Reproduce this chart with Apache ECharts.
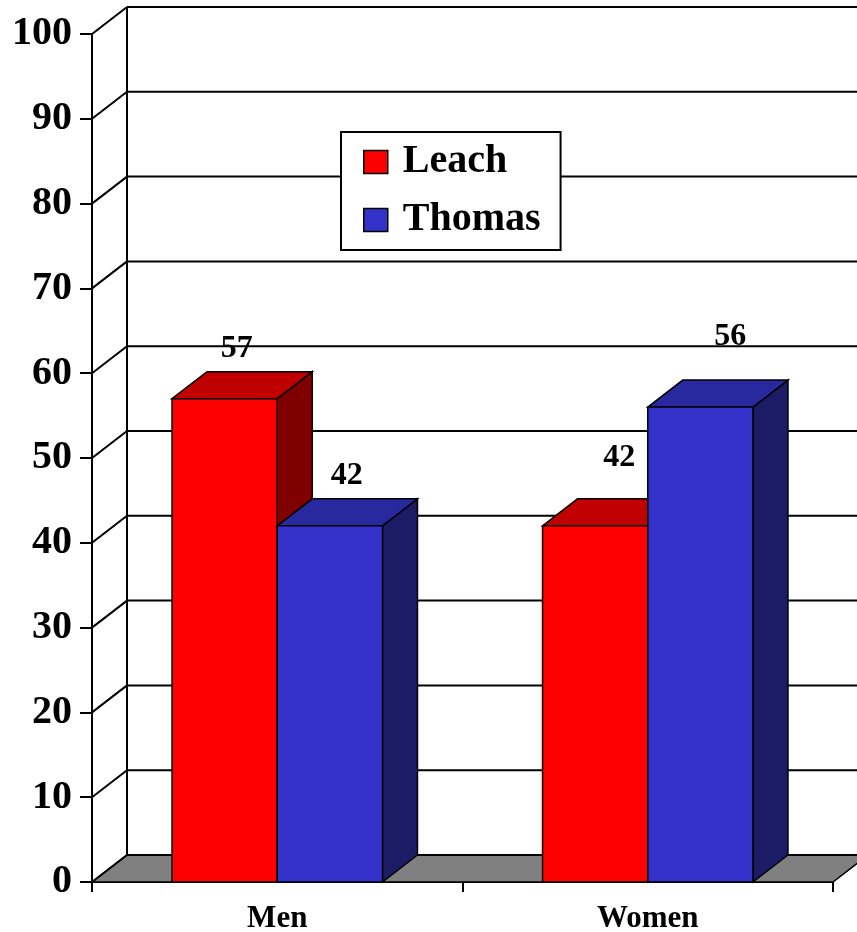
<!DOCTYPE html>
<html>
<head>
<meta charset="utf-8">
<script src="https://cdn.jsdelivr.net/npm/echarts@6/dist/echarts.min.js"></script>
<style>html,body{margin:0;padding:0;background:#fff}#c{width:857px;height:932px}</style>
</head>
<body>
<div id="c"></div>
<script>
// ---- data ----
const categories = ['Men', 'Women'];
const leach = [57, 42];
const thomas = [42, 56];
const yTicks = [0, 10, 20, 30, 40, 50, 60, 70, 80, 90, 100];

// ---- style ----
const DX = 35, DY = -27;
const FONT = 'Liberation Serif, Times New Roman, serif';
const BAR_FRAC = 0.284;
const faces = [
  { front: '#FF0000', top: '#C00000', side: '#800000' },
  { front: '#3333CC', top: '#28289F', side: '#1C1C66' }
];
const labelOffsets = [
  [[12, -50], [24, -68]],
  [[17, -50], [30, -70]]
];

const chart = echarts.init(document.getElementById('c'));

function frameItem(params, api) {
  const v = api.value(0);
  const cs = params.coordSys;
  const y = api.coord([0, v])[1];
  const left = cs.x, right = cs.x + cs.width;
  const ls = { stroke: '#000', lineWidth: 2 };
  const children = [];
  if (params.dataIndex === 0) {
    children.push({
      type: 'polygon',
      shape: { points: [[left, y], [left + DX, y + DY], [right + DX, y + DY], [right, y]] },
      style: { fill: '#808080', stroke: '#000', lineWidth: 1.5 }
    });
    children.push({
      type: 'line',
      shape: { x1: left + DX, y1: y + DY, x2: left + DX, y2: cs.y + DY },
      style: ls
    });
  }
  children.push({
    type: 'line',
    shape: { x1: left + DX, y1: y + DY, x2: right + DX, y2: y + DY },
    style: ls
  });
  children.push({
    type: 'line',
    shape: { x1: left, y1: y, x2: left + DX, y2: y + DY },
    style: ls
  });
  return { type: 'group', children };
}

function barRenderer(s) {
  return function (params, api) {
    const i = api.value(0), v = api.value(1);
    const base = api.coord([i, 0]);
    const top = api.coord([i, v])[1];
    const bandW = api.size([1, 0])[0];
    const w = bandW * BAR_FRAC;
    const x0 = base[0] - w + s * w;
    const b = base[1];
    const f = faces[s];
    const bs = { stroke: '#000', lineWidth: 1.5 };
    const off = labelOffsets[s][i];
    return {
      type: 'group',
      children: [
        { type: 'polygon', shape: { points: [[x0 + w, top], [x0 + w + DX, top + DY], [x0 + w + DX, b + DY], [x0 + w, b]] },
          style: Object.assign({ fill: f.side }, bs) },
        { type: 'polygon', shape: { points: [[x0, top], [x0 + DX, top + DY], [x0 + w + DX, top + DY], [x0 + w, top]] },
          style: Object.assign({ fill: f.top }, bs) },
        { type: 'rect', shape: { x: x0, y: top, width: w, height: b - top },
          style: Object.assign({ fill: f.front }, bs) },
        { type: 'text', x: x0 + w / 2 + off[0], y: top + off[1],
          style: { text: String(v), font: 'bold 32px ' + FONT, fill: '#000', align: 'center', verticalAlign: 'middle' } }
      ]
    };
  };
}

chart.setOption({
  animation: false,
  backgroundColor: '#fff',
  grid: { left: 92, right: 24, top: 34, bottom: 50, containLabel: false, outerBoundsMode: 'none' },
  legend: {
    data: ['Leach', 'Thomas'],
    orient: 'vertical',
    left: 341, top: 132,
    padding: [10, 20, 10, 22],
    itemGap: 18,
    itemWidth: 24, itemHeight: 23,
    icon: 'rect',
    backgroundColor: '#fff',
    borderColor: '#000', borderWidth: 2,
    z: 20,
    itemStyle: { borderColor: '#000', borderWidth: 1.5 },
    textStyle: { fontFamily: FONT, fontWeight: 'bold', fontSize: 40, color: '#000', padding: [0, 0, 0, 10], lineHeight: 40 }
  },
  xAxis: {
    type: 'category',
    data: categories,
    boundaryGap: true,
    axisLine: { lineStyle: { color: '#000', width: 2 } },
    axisTick: { show: true, length: 10, lineStyle: { color: '#000', width: 2 } },
    axisLabel: { fontFamily: FONT, fontWeight: 'bold', fontSize: 31, color: '#000', margin: 21 },
    splitLine: { show: false }
  },
  yAxis: {
    type: 'value',
    min: 0, max: 100, interval: 10,
    axisLine: { show: true, lineStyle: { color: '#000', width: 2 } },
    axisTick: { show: true, length: 12, lineStyle: { color: '#000', width: 2 } },
    axisLabel: { fontFamily: FONT, fontWeight: 'bold', fontSize: 40, color: '#000', margin: 20, padding: [10, 0, 0, 0] },
    splitLine: { show: false }
  },
  series: [
    {
      type: 'custom', z: 1, silent: true,
      data: yTicks.map(t => [t]),
      encode: { y: 0 },
      renderItem: frameItem
    },
    {
      name: 'Leach', type: 'custom', z: 3,
      itemStyle: { color: faces[0].front },
      data: categories.map((c, i) => [i, leach[i]]),
      encode: { x: 0, y: 1 },
      renderItem: barRenderer(0)
    },
    {
      name: 'Thomas', type: 'custom', z: 3,
      itemStyle: { color: faces[1].front },
      data: categories.map((c, i) => [i, thomas[i]]),
      encode: { x: 0, y: 1 },
      renderItem: barRenderer(1)
    }
  ]
});
</script>
</body>
</html>
